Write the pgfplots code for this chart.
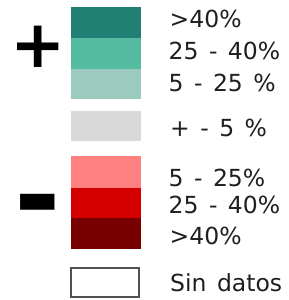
\documentclass[border=0pt]{standalone}
\usepackage{pgfplots}
\pgfplotsset{compat=1.18}
\usepackage{fontspec}
\setmainfont[WordSpace=1.4]{DejaVu Sans}
\usepackage{graphicx}
\definecolor{tealA}{HTML}{217F73}
\definecolor{tealB}{HTML}{54BBA1}
\definecolor{tealC}{HTML}{9DCABF}
\definecolor{greyN}{HTML}{D9D9D9}
\definecolor{redA}{HTML}{FF8080}
\definecolor{redB}{HTML}{D40000}
\definecolor{redC}{HTML}{780000}
\definecolor{boxgray}{HTML}{505050}
\begin{document}
\begin{tikzpicture}
\begin{axis}[scale only axis, width=289bp, height=300bp,
  xmin=0, xmax=289, ymin=0, ymax=300, y dir=reverse,
  hide axis, clip=false]
% positive swatches
\addplot[fill=tealA, draw=none] coordinates {(71.3,7.3)(141,7.3)(141,37.7)(71.3,37.7)} -- cycle;
\addplot[fill=tealB, draw=none] coordinates {(71.3,37.7)(141,37.7)(141,69)(71.3,69)} -- cycle;
\addplot[fill=tealC, draw=none] coordinates {(71.3,69)(141,69)(141,99.3)(71.3,99.3)} -- cycle;
% neutral
\addplot[fill=greyN, draw=none] coordinates {(71.3,110.7)(141,110.7)(141,140.7)(71.3,140.7)} -- cycle;
% negative swatches
\addplot[fill=redA, draw=none] coordinates {(71.3,156)(141,156)(141,187.7)(71.3,187.7)} -- cycle;
\addplot[fill=redB, draw=none] coordinates {(71.3,187.7)(141,187.7)(141,218.3)(71.3,218.3)} -- cycle;
\addplot[fill=redC, draw=none] coordinates {(71.3,218.3)(141,218.3)(141,249)(71.3,249)} -- cycle;
% no data
\addplot[fill=white, draw=boxgray, line width=2bp] coordinates {(70.7,267.7)(139,267.7)(139,297.3)(70.7,297.3)} -- cycle;
% labels
\begin{scope}[every node/.style={anchor=base west, inner sep=0pt, font=\fontsize{23.5bp}{26bp}\selectfont, text=black!88}]
\node at (axis cs:169.5,27.3) {>40\%};
\node at (axis cs:168.5,59.3) {25 - 40\%};
\node at (axis cs:168.5,91.5) {5 - 25 \%};
\node at (axis cs:170,136.5) {+ - 5 \%};
\node at (axis cs:168.5,186) {5 - 25\%};
\node at (axis cs:168.5,213.3) {25 - 40\%};
\node at (axis cs:169.5,244.3) {>40\%};
\node at (axis cs:170,291.5) {Sin datos};
\end{scope}
\node[inner sep=0pt, font=\fontsize{66bp}{70bp}\selectfont\bfseries] at (axis cs:38.3,46.5) {+};
\node[inner sep=0pt, font=\fontsize{112bp}{116bp}\selectfont\bfseries] at (axis cs:37.8,214) {-};
\path (axis cs:0,0) rectangle (axis cs:289,300);
\end{axis}
\end{tikzpicture}
\end{document}
